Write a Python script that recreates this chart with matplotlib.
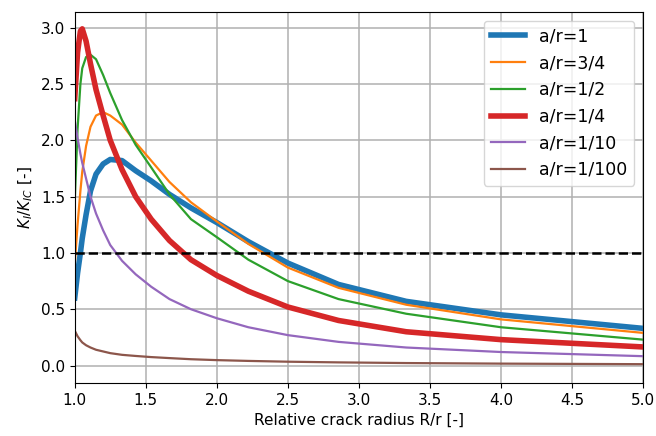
import matplotlib
matplotlib.use("Agg")
import matplotlib.pyplot as plt

x = [1.0, 1.02, 1.04, 1.053, 1.08, 1.111, 1.15, 1.2, 1.25, 1.333, 1.429,
     1.538, 1.667, 1.818, 2.0, 2.222, 2.5, 2.857, 3.333, 4.0, 5.0]

k_1 = [0.60, 0.82, 1.00, 1.13, 1.34, 1.55, 1.70, 1.79, 1.83, 1.82, 1.73,
       1.64, 1.52, 1.40, 1.27, 1.10, 0.91, 0.72, 0.57, 0.45, 0.33]
k_3_4 = [0.90, 1.25, 1.55, 1.72, 1.95, 2.12, 2.22, 2.25, 2.22, 2.14, 1.98,
         1.82, 1.63, 1.45, 1.28, 1.08, 0.87, 0.69, 0.54, 0.41, 0.29]
k_1_2 = [1.45, 2.10, 2.50, 2.64, 2.74, 2.76, 2.72, 2.58, 2.42, 2.18, 1.96,
         1.76, 1.52, 1.30, 1.14, 0.94, 0.75, 0.59, 0.46, 0.34, 0.23]
k_1_4 = [2.37, 2.78, 2.97, 2.99, 2.88, 2.68, 2.45, 2.22, 2.00, 1.74, 1.50,
         1.30, 1.11, 0.94, 0.80, 0.66, 0.52, 0.40, 0.30, 0.23, 0.165]
k_1_10 = [2.18, 2.02, 1.88, 1.80, 1.66, 1.50, 1.35, 1.20, 1.07, 0.93, 0.81,
          0.70, 0.59, 0.50, 0.42, 0.34, 0.27, 0.21, 0.16, 0.12, 0.083]
k_1_100 = [0.31, 0.26, 0.225, 0.205, 0.18, 0.16, 0.14, 0.125, 0.11, 0.095, 0.085,
           0.075, 0.066, 0.056, 0.048, 0.041, 0.034, 0.028, 0.022, 0.017, 0.012]

labels = ["a/r=1", "a/r=3/4", "a/r=1/2", "a/r=1/4", "a/r=1/10", "a/r=1/100"]
series = [k_1, k_3_4, k_1_2, k_1_4, k_1_10, k_1_100]
colors = ["#1f77b4", "#ff7f0e", "#2ca02c", "#d62728", "#9467bd", "#8c564b"]
widths = [4, 1.6, 1.6, 4, 1.6, 1.6]

plt.rcParams["font.size"] = 11
fig = plt.figure(figsize=(6.56, 4.36), dpi=100)
ax = fig.add_axes([0.1139, 0.1216, 0.8663, 0.851])

for ys, lab, c, w in zip(series, labels, colors, widths):
    ax.plot(x, ys, color=c, lw=w, label=lab)

ax.axhline(1.0, color="black", ls="--", lw=1.8, zorder=3)

ax.set_xlim(1.0, 5.0)
ax.set_ylim(-0.155, 3.14)
ax.set_xticks([1.0, 1.5, 2.0, 2.5, 3.0, 3.5, 4.0, 4.5, 5.0])
ax.set_yticks([0.0, 0.5, 1.0, 1.5, 2.0, 2.5, 3.0])
ax.grid(True, color="#b0b0b0", lw=1.1)
ax.set_axisbelow(True)
ax.set_xlabel("Relative crack radius R/r [-]")
ax.set_ylabel(r"$K_I/K_{IC}$ [-]")
ax.legend(loc="upper right", fontsize=12.5)

fig.savefig("out.png", dpi=100)
